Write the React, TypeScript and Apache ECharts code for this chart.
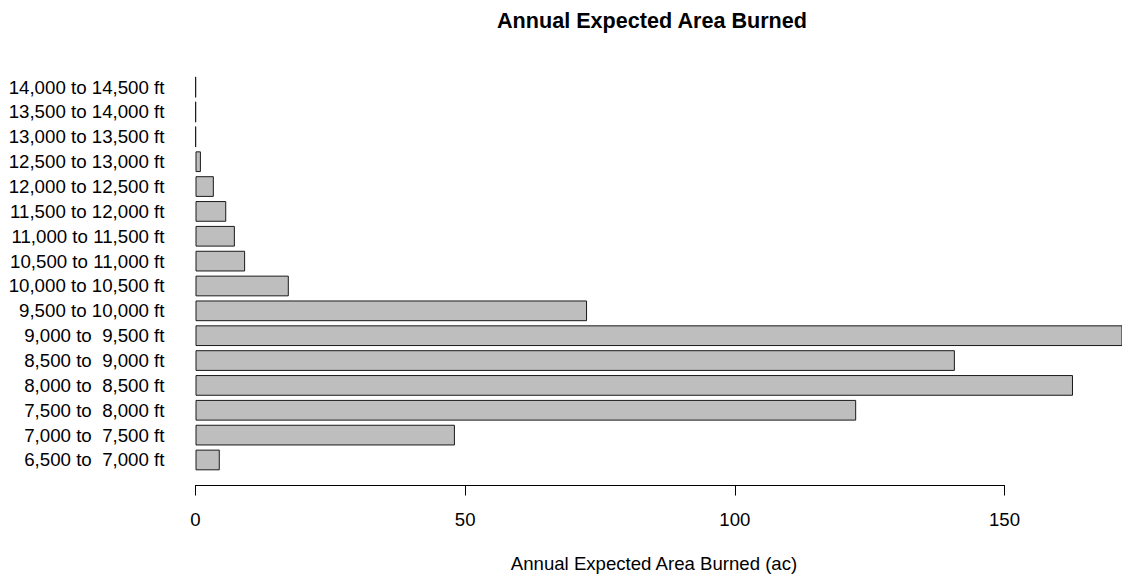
import React, { useEffect, useRef } from "react";
import * as echarts from "echarts";

const categories = [
  "6,500 to  7,000 ft",
  "7,000 to  7,500 ft",
  "7,500 to  8,000 ft",
  "8,000 to  8,500 ft",
  "8,500 to  9,000 ft",
  "9,000 to  9,500 ft",
  "9,500 to 10,000 ft",
  "10,000 to 10,500 ft",
  "10,500 to 11,000 ft",
  "11,000 to 11,500 ft",
  "11,500 to 12,000 ft",
  "12,000 to 12,500 ft",
  "12,500 to 13,000 ft",
  "13,000 to 13,500 ft",
  "13,500 to 14,000 ft",
  "14,000 to 14,500 ft",
];

const areaBurned = [4.5, 48.1, 122.5, 162.7, 140.8, 190, 72.6, 17.3, 9.2, 7.3, 5.7, 3.4, 1.0, 0.05, 0.05, 0.05];

const xTicks = [0, 50, 100, 150];

const FONT = '"Liberation Sans", Arial, Helvetica, sans-serif';

export default function App() {
  const ref = useRef<HTMLDivElement>(null);
  useEffect(() => {
    if (!ref.current) return;
    const chart = echarts.init(ref.current, null, { renderer: "svg" });
    const pxPerUnit = 809 / 150;
    const plotLeft = 195.5;
    const fullMax = (1122 - plotLeft) / pxPerUnit;
    chart.setOption({
      animation: false,
      backgroundColor: "#ffffff",
      textStyle: { fontFamily: FONT },
      title: [
        {
          text: "Annual Expected Area Burned",
          left: 647,
          top: 4,
          textAlign: "center",
          textStyle: { fontFamily: FONT, fontSize: 21.6, fontWeight: "bold", color: "#000" },
        },
        {
          text: "Annual Expected Area Burned (ac)",
          left: 649,
          top: 549,
          textAlign: "center",
          textStyle: { fontFamily: FONT, fontSize: 18.6, fontWeight: "normal", color: "#000" },
        },
      ],
      grid: [
        { left: plotLeft, right: 0, top: 74.7, height: 397.7, containLabel: false },
        { left: plotLeft, width: xTicks[xTicks.length - 1] * pxPerUnit, top: 484.5, height: 1, containLabel: false },
      ],
      xAxis: [
        {
          type: "value",
          gridIndex: 0,
          min: 0,
          max: fullMax,
          show: false,
          splitLine: { show: false },
        },
        {
          type: "value",
          gridIndex: 1,
          min: xTicks[0],
          max: xTicks[xTicks.length - 1],
          interval: 50,
          position: "bottom",
          axisLine: { show: true, lineStyle: { color: "#000", width: 1 } },
          axisTick: { show: true, length: 10, lineStyle: { color: "#000", width: 1 } },
          axisLabel: { show: true, margin: 24, fontSize: 18.6, color: "#000", fontFamily: FONT },
          splitLine: { show: false },
        },
      ],
      yAxis: [
        {
          type: "category",
          gridIndex: 0,
          data: categories,
          axisLine: { show: false },
          axisTick: { show: false },
          axisLabel: { margin: 31, fontSize: 18.7, color: "#000", fontFamily: FONT, interval: 0 },
          splitLine: { show: false },
        },
        {
          type: "category",
          gridIndex: 1,
          data: ["a"],
          show: false,
        },
      ],
      series: [
        {
          type: "bar",
          xAxisIndex: 0,
          yAxisIndex: 0,
          data: areaBurned,
          barCategoryGap: "16.7%",
          itemStyle: { color: "#bebebe", borderColor: "#1a1a1a", borderWidth: 1 },
          emphasis: { disabled: true },
        },
      ],
    });
    return () => chart.dispose();
  }, []);
  return (
    <div
      ref={ref}
      style={{ position: "absolute", left: 0, top: 0, width: 1122, height: 577 }}
    />
  );
}
